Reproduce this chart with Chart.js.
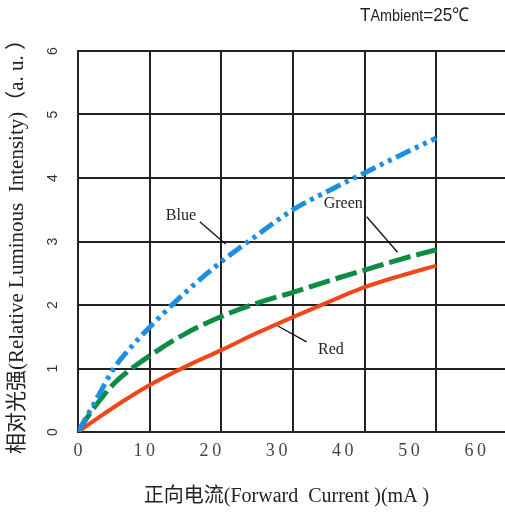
<!DOCTYPE html>
<html>
<head>
<meta charset="utf-8">
<script src="https://cdn.jsdelivr.net/npm/chart.js@4.4.1/dist/chart.umd.min.js"></script>
<style>
  html, body { margin: 0; padding: 0; background: #fff; }
  #wrap { width: 505px; height: 515px; }
</style>
</head>
<body>
<div id="wrap"><canvas id="ivChart" width="505" height="515"></canvas></div>
<script>
// forward current (mA), on the grid scale
const currentMA   = [0, 1, 2.5, 5, 7.5, 10, 15, 20, 25, 30, 35, 40, 45, 50];
const blueValues  = [0, 0.2, 0.5, 1.0, 1.35, 1.65, 2.2, 2.68, 3.1, 3.5, 3.8, 4.08, 4.36, 4.63];
const greenValues = [0, 0.18, 0.42, 0.76, 1.0, 1.2, 1.55, 1.82, 2.03, 2.2, 2.38, 2.55, 2.72, 2.87];
const redValues   = [0, 0.08, 0.2, 0.39, 0.57, 0.74, 1.03, 1.29, 1.56, 1.81, 2.05, 2.28, 2.46, 2.62];

const xTickLabels = [0, 10, 20, 30, 40, 50, 60];
const yTicks = [0, 1, 2, 3, 4, 5, 6];

// curve name labels with leader lines (data coords)
const noteLabels = ['Blue', 'Green', 'Red'];
const noteAt     = [[12.25, 3.40], [34.3, 3.59], [33.5, 1.29]];
const leaderFrom = [[17.0, 3.31], [40.3, 3.39], [27.9, 1.67]];
const leaderTo   = [[20.6, 2.96], [44.6, 2.83], [31.9, 1.42]];

const serif = '"Liberation Serif", "Noto Sans CJK SC", serif';
const gridColor = '#222';

const toPoints = vals => vals.map((v, i) => ({x: currentMA[i], y: v}));

const overlay = {
  id: 'overlay',
  afterDraw(chart) {
    const {ctx, scales: {x, y}} = chart;
    ctx.save();

    // rotated y tick labels
    ctx.fillStyle = '#333';
    ctx.font = '14px "Liberation Sans"';
    ctx.textAlign = 'center';
    ctx.textBaseline = 'middle';
    yTicks.forEach(v => {
      ctx.save();
      ctx.translate(53, y.getPixelForValue(v));
      ctx.rotate(-Math.PI / 2);
      ctx.fillText(String(v), 0, 0);
      ctx.restore();
    });

    // curve labels
    ctx.fillStyle = '#222';
    ctx.font = '16px ' + serif;
    ctx.textAlign = 'left';
    noteLabels.forEach((t, i) => {
      ctx.fillText(t, x.getPixelForValue(noteAt[i][0]), y.getPixelForValue(noteAt[i][1]));
    });
    ctx.strokeStyle = '#111';
    ctx.lineWidth = 1.3;
    leaderFrom.forEach((p, i) => {
      ctx.beginPath();
      ctx.moveTo(x.getPixelForValue(p[0]), y.getPixelForValue(p[1]));
      ctx.lineTo(x.getPixelForValue(leaderTo[i][0]), y.getPixelForValue(leaderTo[i][1]));
      ctx.stroke();
    });

    // ambient temperature note
    ctx.fillStyle = '#222';
    ctx.textBaseline = 'alphabetic';
    ctx.save();
    ctx.translate(360, 21);
    ctx.scale(0.9, 1);
    ctx.font = '19px "Liberation Sans"';
    ctx.fillText('T', 0, 0);
    let w = ctx.measureText('T').width;
    ctx.font = '16px "Liberation Sans"';
    ctx.fillText('Ambient', w, 0);
    w += ctx.measureText('Ambient').width;
    ctx.font = '19px "Liberation Sans"';
    ctx.fillText('=25℃', w, 0);
    ctx.restore();

    ctx.restore();
  }
};

new Chart(document.getElementById('ivChart'), {
  type: 'line',
  data: {
    datasets: [
      {
        label: 'Blue',
        data: toPoints(blueValues),
        borderColor: '#1b8fe3',
        borderWidth: 5,
        borderDash: [16, 5, 4, 5, 4, 5],
        pointRadius: 0,
        cubicInterpolationMode: 'monotone'
      },
      {
        label: 'Green',
        data: toPoints(greenValues),
        borderColor: '#0f8c44',
        borderWidth: 5,
        borderDash: [22, 6],
        pointRadius: 0,
        cubicInterpolationMode: 'monotone'
      },
      {
        label: 'Red',
        data: toPoints(redValues),
        borderColor: '#f0461a',
        borderWidth: 4,
        pointRadius: 0,
        cubicInterpolationMode: 'monotone'
      }
    ]
  },
  options: {
    responsive: false,
    animation: false,
    layout: {padding: {top: 51, left: 0, right: 0, bottom: 0}},
    plugins: {legend: {display: false}, tooltip: {enabled: false}},
    scales: {
      x: {
        type: 'linear',
        min: 0,
        max: 59.6,
        weight: 0,
        afterBuildTicks: s => { s.ticks = s.ticks.filter(t => t.value % 10 === 0); },
        afterFit: s => { s.height = 0; },
        ticks: {display: false, stepSize: 10},
        grid: {color: gridColor, lineWidth: 2, drawTicks: false},
        border: {color: gridColor, width: 2}
      },
      xl: {
        type: 'linear',
        position: 'bottom',
        min: 0,
        max: 64.5,
        weight: 1,
        afterBuildTicks: s => { s.ticks = xTickLabels.map(v => ({value: v})); },
        afterFit: s => { s.height = 83; },
        ticks: {
          color: '#444',
          padding: 8,
          font: {family: serif, size: 18},
          callback: v => String(v).split('').join('\u2009')
        },
        grid: {display: false, drawTicks: false},
        border: {display: false},
        title: {
          display: true,
          text: '正向电流(Forward  Current )(mA )  ',
          color: '#222',
          font: {family: serif, size: 20},
          padding: {top: 0, bottom: 6}
        }
      },
      y: {
        min: 0,
        max: 6,
        afterFit: s => { s.width = 78; },
        ticks: {display: false, stepSize: 1},
        grid: {color: gridColor, lineWidth: 2, drawTicks: false},
        border: {color: gridColor, width: 2},
        title: {
          display: true,
          text: '相对光强(Relative Luminous  Intensity)（a. u. ）',
          color: '#222',
          font: {family: serif, size: 21},
          padding: {top: 5, bottom: 0}
        }
      }
    }
  },
  plugins: [overlay]
});
</script>
</body>
</html>
